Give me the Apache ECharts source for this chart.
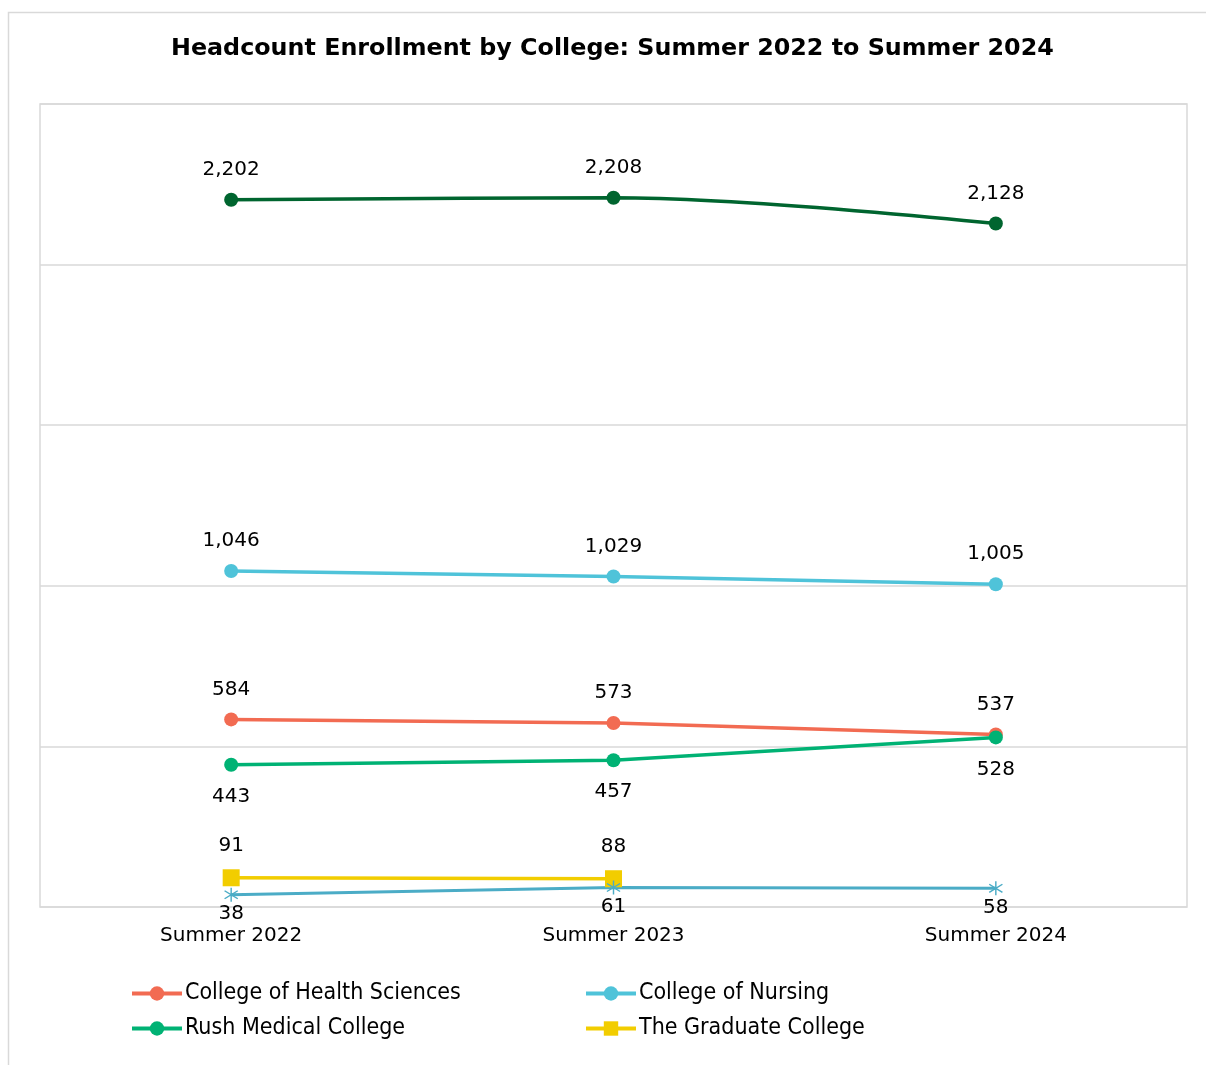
<!DOCTYPE html>
<html>
<head>
<meta charset="utf-8">
<style>
  html, body { margin: 0; padding: 0; background: #fff; }
  #chart { width: 1206px; height: 1065px; }
</style>
<script src="https://cdn.jsdelivr.net/npm/echarts@6/dist/echarts.min.js"></script>
</head>
<body>
<div id="chart"></div>
<script>
// data
const terms = ["Summer 2022", "Summer 2023", "Summer 2024"];
const totalHeadcount = [2202, 2208, 2128];
const nursing = [1046, 1029, 1005];
const healthSciences = [584, 573, 537];
const rushMedical = [443, 457, 528];
const graduate = [91, 88, "-"];
const otherCollege = [38, 61, 58];

const font = "DejaVu Sans";

// asterisk marker made of three thin bars
function bar(angle) {
  const a = angle * Math.PI / 180, L = 10, W = 0.9;
  const c = Math.cos(a), s = Math.sin(a);
  const pts = [[-L, -W], [L, -W], [L, W], [-L, W]].map(([x, y]) =>
    (x * c - y * s).toFixed(2) + "," + (x * s + y * c).toFixed(2));
  return "M" + pts.join(" L") + " Z";
}
const asterisk = "path://" + [90, 35, 145].map(bar).join(" ");

const fmt = (p) => (typeof p.value === "number" ? p.value.toLocaleString("en-US") : "");

function lineSeries(name, data, color, opts) {
  return Object.assign({
    name: name,
    type: "line",
    data: data,
    symbol: "circle",
    symbolSize: 14,
    lineStyle: { color: color, width: 3.5 },
    itemStyle: { color: color },
    label: {
      show: true,
      position: "top",
      distance: 13,
      color: "#000",
      fontFamily: font,
      fontSize: 20,
      formatter: fmt
    },
    emphasis: { disabled: true }
  }, opts || {});
}

const legendBase = {
  orient: "vertical",
  top: 982,
  padding: 0,
  itemWidth: 50,
  itemHeight: 18,
  itemGap: 12,
  lineStyle: { width: 4 },
  textStyle: { fontFamily: "DejaVu Sans Condensed", fontSize: 23, color: "#000", padding: [0, 0, 0, -2] }
};

const chart = echarts.init(document.getElementById("chart"));
chart.setOption({
  animation: false,
  graphic: [{
    type: "rect",
    shape: { x: 8.5, y: 12.5, width: 1300, height: 1200 },
    style: { fill: null, stroke: "#d9d9d9", lineWidth: 1.5 },
    silent: true
  }],
  title: {
    text: "Headcount Enrollment by College: Summer 2022 to Summer 2024",
    left: 166,
    top: 32,
    textStyle: { fontFamily: font, fontSize: 23.8, fontWeight: "bold", color: "#000" }
  },
  grid: { left: 40, right: 19, top: 104, bottom: 158, show: true, borderColor: "#d9d9d9", borderWidth: 1.5 },
  xAxis: {
    type: "category",
    data: terms,
    axisLine: { show: false },
    axisTick: { show: false },
    axisLabel: { color: "#000", fontFamily: font, fontSize: 20, margin: 19 }
  },
  yAxis: {
    type: "value",
    min: 0,
    max: 2500,
    interval: 500,
    axisLabel: { show: false },
    axisLine: { show: false },
    axisTick: { show: false },
    splitLine: { lineStyle: { color: "#d9d9d9", width: 1.5 } }
  },
  legend: [
    Object.assign({ left: 130, data: ["College of Health Sciences", "Rush Medical College"] }, legendBase),
    Object.assign({ left: 584, data: ["College of Nursing", "The Graduate College"] }, legendBase)
  ],
  series: [
    lineSeries("Total", totalHeadcount, "#00652f", { smooth: 0.35 }),
    lineSeries("College of Nursing", nursing, "#4fc3d9"),
    lineSeries("College of Health Sciences", healthSciences, "#f26b52"),
    lineSeries("Rush Medical College", rushMedical, "#00b274", {
      label: { show: true, position: "bottom", distance: 15, color: "#000", fontFamily: font, fontSize: 20, formatter: fmt }
    }),
    lineSeries("The Graduate College", graduate, "#f2cd00", { symbol: "rect", symbolSize: 17 }),
    lineSeries("Other", otherCollege, "#4bacc6", {
      symbol: asterisk,
      symbolSize: 14,
      lineStyle: { color: "#4bacc6", width: 3 },
      label: { show: true, position: "bottom", distance: 2, color: "#000", fontFamily: font, fontSize: 20, formatter: fmt }
    })
  ]
});
</script>
</body>
</html>
